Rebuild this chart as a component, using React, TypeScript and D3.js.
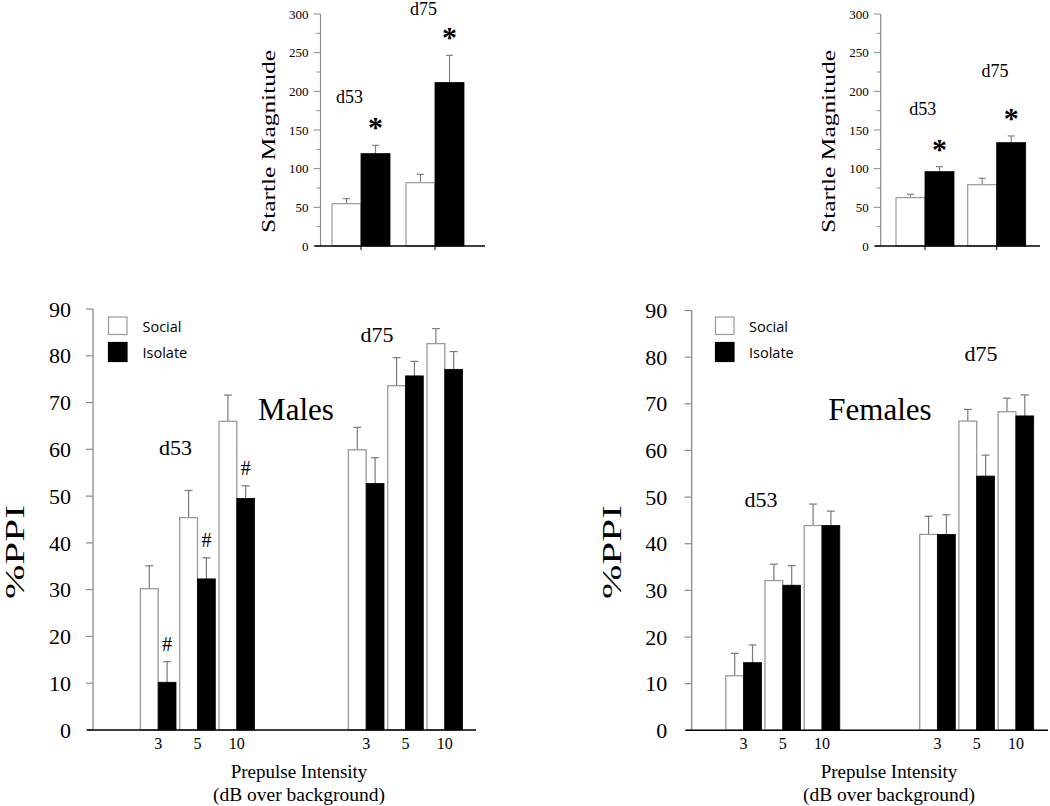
import React from "react";
import * as d3 from "d3";

// ---------- DATA ----------
const groups = ["d53", "d75"];
const intensities = ["3", "5", "10"];
const seriesNames = ["Social", "Isolate"];

// %PPI, order: d53-3, d53-5, d53-10, d75-3, d75-5, d75-10
const maleSocialMean = [30.2, 45.4, 66.0, 59.9, 73.6, 82.6];
const maleSocialSem = [4.9, 5.8, 5.6, 4.8, 6.0, 3.2];
const maleIsolateMean = [10.2, 32.3, 49.5, 52.7, 75.7, 77.1];
const maleIsolateSem = [4.4, 4.5, 2.7, 5.5, 3.1, 3.8];
const maleIsolateMarks = ["#", "#", "#", "", "", ""];

const femaleSocialMean = [11.7, 32.1, 43.9, 42.0, 66.3, 68.3];
const femaleSocialSem = [4.8, 3.5, 4.6, 3.9, 2.5, 2.9];
const femaleIsolateMean = [14.5, 31.1, 43.9, 42.0, 54.5, 67.4];
const femaleIsolateSem = [3.8, 4.2, 3.1, 4.2, 4.5, 4.5];
const femaleIsolateMarks = ["", "", "", "", "", ""];

// Startle magnitude, order: d53, d75
const maleStartleSocialMean = [54.7, 81.9];
const maleStartleSocialSem = [6.5, 10.8];
const maleStartleIsolateMean = [119.4, 211.3];
const maleStartleIsolateSem = [10.8, 35.3];

const femaleStartleSocialMean = [62.5, 79.3];
const femaleStartleSocialSem = [4.4, 8.3];
const femaleStartleIsolateMean = [96.1, 133.6];
const femaleStartleIsolateSem = [6.5, 8.7];

const ppiTicks = [0, 10, 20, 30, 40, 50, 60, 70, 80, 90];
const startleTicks = [0, 50, 100, 150, 200, 250, 300];
const startleMinorTicks = [25, 75, 125, 175, 225, 275];

// ---------- STYLE ----------
const SERIF = "'Liberation Serif', 'Times New Roman', serif";
const SANS = "'Open Sans', 'DejaVu Sans', sans-serif";
const AXIS_GRAY = "#8a8a8a";
const BAR_GRAY = "#9a9a9a";
const ERR_GRAY = "#7a7a7a";

type MainCfg = {
  axisX: number;
  axisEnd: number;
  y0: number;
  y90: number;
  groupCenters: [number, number];
  step: number;
  barW: number;
  title: string;
  titleX: number;
  titleY: number;
  legendX: number;
  legendTextX: number;
  dLabels: { x: number; y: number }[];
  yLabelX: number;
  xTitleX: number;
  tickLabelGap: number;
  socialMean: number[];
  socialSem: number[];
  isoMean: number[];
  isoSem: number[];
  marks: string[];
};

function MainPanel({ c }: { c: MainCfg }) {
  const y = d3.scaleLinear().domain([0, 90]).range([c.y0, c.y90]);
  const gx = d3.scalePoint<string>().domain(groups).range(c.groupCenters);
  const ix = d3.scalePoint<string>().domain(intensities).range([-c.step, c.step]);
  const cats = groups.flatMap((g) => intensities.map((i) => ({ g, i })));
  const pos = (k: number) => (gx(cats[k].g) as number) + (ix(cats[k].i) as number);
  const cap = 4;
  return (
    <g>
      {/* bars */}
      {cats.map((_, k) => {
        const p = pos(k);
        const ys = y(c.socialMean[k]);
        const yi = y(c.isoMean[k]);
        const es = y(c.socialMean[k] + c.socialSem[k]);
        const ei = y(c.isoMean[k] + c.isoSem[k]);
        const cs = p - c.barW / 2;
        const ci = p + c.barW / 2;
        return (
          <g key={k}>
            <line x1={cs} x2={cs} y1={ys} y2={es} stroke={ERR_GRAY} strokeWidth={1.2} />
            <line x1={cs - cap} x2={cs + cap} y1={es} y2={es} stroke={ERR_GRAY} strokeWidth={1.2} />
            <line x1={ci} x2={ci} y1={yi} y2={ei} stroke={ERR_GRAY} strokeWidth={1.2} />
            <line x1={ci - cap} x2={ci + cap} y1={ei} y2={ei} stroke={ERR_GRAY} strokeWidth={1.2} />
            <rect x={p - c.barW} y={ys} width={c.barW} height={c.y0 - ys} fill="#fff" stroke={BAR_GRAY} strokeWidth={1.3} />
            <rect x={p} y={yi} width={c.barW} height={c.y0 - yi} fill="#000" stroke="#000" strokeWidth={0.8} />
            {c.marks[k] ? (
              <text x={ci} y={ei - 11} textAnchor="middle" fontFamily={SERIF} fontSize={20}>
                {c.marks[k]}
              </text>
            ) : null}
            <text x={p} y={749} textAnchor="middle" fontFamily={SERIF} fontSize={16}>
              {cats[k].i}
            </text>
          </g>
        );
      })}
      {/* y axis */}
      <line x1={c.axisX} x2={c.axisX} y1={c.y0} y2={c.y90} stroke={AXIS_GRAY} strokeWidth={1.3} />
      {ppiTicks.map((t) => (
        <g key={t}>
          <line x1={c.axisX - 7} x2={c.axisX} y1={y(t)} y2={y(t)} stroke={AXIS_GRAY} strokeWidth={1.2} />
          <text x={c.axisX - c.tickLabelGap} y={y(t)} dy="0.35em" textAnchor="end" fontFamily={SERIF} fontSize={22}>
            {t}
          </text>
        </g>
      ))}
      {/* x axis */}
      <line x1={c.axisX - 6} x2={c.axisEnd} y1={c.y0} y2={c.y0} stroke="#000" strokeWidth={1.5} />
      {/* y label */}
      <text
        transform={`translate(${c.yLabelX},${552}) rotate(-90)`}
        textAnchor="middle"
        fontFamily={SERIF}
        fontSize={27}
        textLength={94}
        lengthAdjust="spacingAndGlyphs"
      >
        %PPI
      </text>
      {/* x title */}
      <text x={c.xTitleX} y={778} textAnchor="middle" fontFamily={SERIF} fontSize={19}>
        Prepulse Intensity
      </text>
      <text x={c.xTitleX} y={801} textAnchor="middle" fontFamily={SERIF} fontSize={19.5}>
        (dB over background)
      </text>
      {/* group labels */}
      {groups.map((g, k) => (
        <text key={g} x={c.dLabels[k].x} y={c.dLabels[k].y} textAnchor="middle" fontFamily={SERIF} fontSize={22}>
          {g}
        </text>
      ))}
      <text x={c.titleX} y={c.titleY} textAnchor="middle" fontFamily={SERIF} fontSize={31}>
        {c.title}
      </text>
      {/* legend */}
      {seriesNames.map((s, k) => (
        <g key={s}>
          <rect
            x={c.legendX}
            y={317 + k * 25.5}
            width={18.5}
            height={k === 0 ? 17.5 : 19}
            fill={k === 0 ? "#fff" : "#000"}
            stroke={k === 0 ? BAR_GRAY : "#000"}
            strokeWidth={1.2}
          />
          <text x={c.legendTextX} y={332 + k * 26} fontFamily={SANS} fontSize={14.5}>
            {s}
          </text>
        </g>
      ))}
    </g>
  );
}

type InsetCfg = {
  axisX: number;
  axisEnd: number;
  boundaries: [number, number];
  barW: number;
  socialMean: number[];
  socialSem: number[];
  isoMean: number[];
  isoSem: number[];
  dLabels: { x: number; y: number }[];
};

function InsetPanel({ c }: { c: InsetCfg }) {
  const y = d3.scaleLinear().domain([0, 300]).range([246, 14]);
  const gx = d3.scalePoint<string>().domain(groups).range(c.boundaries);
  const cap = 3.5;
  return (
    <g>
      {groups.map((g, k) => {
        const p = gx(g) as number;
        const ys = y(c.socialMean[k]);
        const yi = y(c.isoMean[k]);
        const es = y(c.socialMean[k] + c.socialSem[k]);
        const ei = y(c.isoMean[k] + c.isoSem[k]);
        const cs = p - c.barW / 2;
        const ci = p + c.barW / 2;
        return (
          <g key={g}>
            <line x1={cs} x2={cs} y1={ys} y2={es} stroke={ERR_GRAY} strokeWidth={1.1} />
            <line x1={cs - cap} x2={cs + cap} y1={es} y2={es} stroke={ERR_GRAY} strokeWidth={1.1} />
            <line x1={ci} x2={ci} y1={yi} y2={ei} stroke={ERR_GRAY} strokeWidth={1.1} />
            <line x1={ci - cap} x2={ci + cap} y1={ei} y2={ei} stroke={ERR_GRAY} strokeWidth={1.1} />
            <rect x={p - c.barW} y={ys} width={c.barW} height={246 - ys} fill="#fff" stroke={BAR_GRAY} strokeWidth={1.2} />
            <rect x={p} y={yi} width={c.barW} height={246 - yi} fill="#000" stroke="#000" strokeWidth={0.8} />
            <line x1={p} x2={p} y1={246} y2={250} stroke="#000" strokeWidth={1} />
            <text x={ci} y={ei - 8} textAnchor="middle" fontFamily={SERIF} fontWeight="bold" fontSize={30}>
              *
            </text>
            <text x={c.dLabels[k].x} y={c.dLabels[k].y} textAnchor="middle" fontFamily={SERIF} fontSize={18}>
              {g}
            </text>
          </g>
        );
      })}
      <line x1={c.axisX} x2={c.axisX} y1={246} y2={14} stroke={AXIS_GRAY} strokeWidth={1.2} />
      {startleTicks.map((t) => (
        <g key={t}>
          <line x1={c.axisX - 7} x2={c.axisX} y1={y(t)} y2={y(t)} stroke={AXIS_GRAY} strokeWidth={1} />
          <text x={c.axisX - 12} y={y(t)} dy="0.35em" textAnchor="end" fontFamily={SERIF} fontSize={13}>
            {t}
          </text>
        </g>
      ))}
      {startleMinorTicks.map((t) => (
        <line key={t} x1={c.axisX - 4} x2={c.axisX} y1={y(t)} y2={y(t)} stroke={AXIS_GRAY} strokeWidth={1} />
      ))}
      <line x1={c.axisX - 6} x2={c.axisEnd} y1={246} y2={246} stroke="#000" strokeWidth={1.4} />
      <text
        transform={`translate(${c.axisX - 46},${141.5}) rotate(-90)`}
        textAnchor="middle"
        fontFamily={SERIF}
        fontSize={19}
        textLength={183}
        lengthAdjust="spacingAndGlyphs"
      >
        Startle Magnitude
      </text>
    </g>
  );
}

const maleCfg: MainCfg = {
  axisX: 93,
  axisEnd: 476,
  y0: 730,
  y90: 309,
  groupCenters: [197.5, 405.5],
  step: 39.3,
  barW: 17.8,
  title: "Males",
  titleX: 296,
  titleY: 420,
  legendX: 108.5,
  legendTextX: 142.5,
  dLabels: [
    { x: 175.5, y: 455 },
    { x: 377, y: 342 },
  ],
  yLabelX: 24,
  xTitleX: 299,
  tickLabelGap: 22,
  socialMean: maleSocialMean,
  socialSem: maleSocialSem,
  isoMean: maleIsolateMean,
  isoSem: maleIsolateSem,
  marks: maleIsolateMarks,
};

const femaleCfg: MainCfg = {
  axisX: 691.7,
  axisEnd: 1048,
  y0: 730.3,
  y90: 310.5,
  groupCenters: [782.8, 976.7],
  step: 39.2,
  barW: 17.8,
  title: "Females",
  titleX: 880,
  titleY: 419.5,
  legendX: 715.5,
  legendTextX: 749,
  dLabels: [
    { x: 761, y: 507 },
    { x: 981, y: 361 },
  ],
  yLabelX: 621,
  xTitleX: 889,
  tickLabelGap: 24.5,
  socialMean: femaleSocialMean,
  socialSem: femaleSocialSem,
  isoMean: femaleIsolateMean,
  isoSem: femaleIsolateSem,
  marks: femaleIsolateMarks,
};

const maleInset: InsetCfg = {
  axisX: 320.5,
  axisEnd: 485,
  boundaries: [361, 435],
  barW: 29,
  socialMean: maleStartleSocialMean,
  socialSem: maleStartleSocialSem,
  isoMean: maleStartleIsolateMean,
  isoSem: maleStartleIsolateSem,
  dLabels: [
    { x: 349.5, y: 103 },
    { x: 423.5, y: 14.5 },
  ],
};

const femaleInset: InsetCfg = {
  axisX: 880.7,
  axisEnd: 1040,
  boundaries: [925, 996.7],
  barW: 29,
  socialMean: femaleStartleSocialMean,
  socialSem: femaleStartleSocialSem,
  isoMean: femaleStartleIsolateMean,
  isoSem: femaleStartleIsolateSem,
  dLabels: [
    { x: 922.7, y: 115 },
    { x: 995, y: 76.5 },
  ],
};

export default function App() {
  return (
    <svg
      width={1050}
      height={806}
      viewBox="0 0 1050 806"
      style={{ position: "absolute", left: 0, top: 0, background: "#fff" }}
    >
      <rect x={0} y={0} width={1050} height={806} fill="#fff" />
      <MainPanel c={maleCfg} />
      <MainPanel c={femaleCfg} />
      <InsetPanel c={maleInset} />
      <InsetPanel c={femaleInset} />
    </svg>
  );
}
